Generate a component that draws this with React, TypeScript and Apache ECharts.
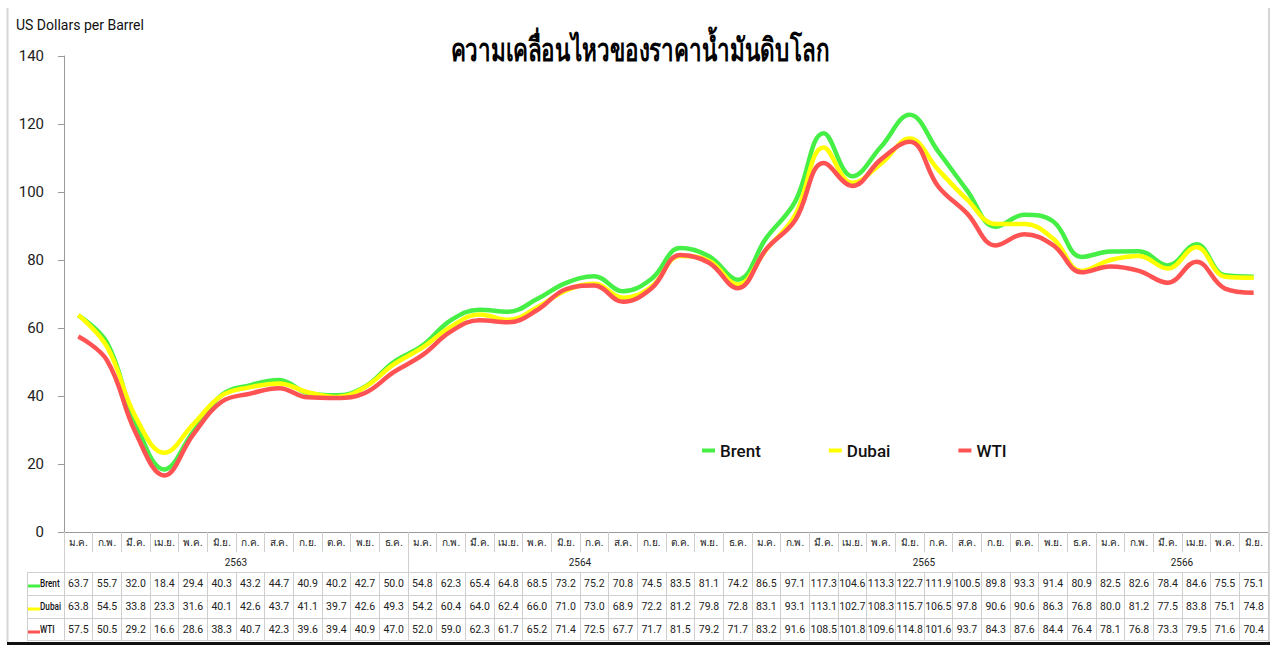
import React, { useEffect, useRef } from 'react';
import * as echarts from 'echarts';

const months = ['ม.ค.', 'ก.พ.', 'มี.ค.', 'เม.ย.', 'พ.ค.', 'มิ.ย.', 'ก.ค.', 'ส.ค.', 'ก.ย.', 'ต.ค.', 'พ.ย.', 'ธ.ค.'];
const years = ['2563', '2564', '2565', '2566'];
const monthsPerYear = [12, 12, 12, 6];

const seriesNames = ['Brent', 'Dubai', 'WTI'];
const seriesColors = ['#46ef46', '#ffff00', '#ff5252'];

const brent = [
  63.7, 55.7, 32.0, 18.4, 29.4, 40.3, 43.2, 44.7, 40.9, 40.2, 42.7, 50.0,
  54.8, 62.3, 65.4, 64.8, 68.5, 73.2, 75.2, 70.8, 74.5, 83.5, 81.1, 74.2,
  86.5, 97.1, 117.3, 104.6, 113.3, 122.7, 111.9, 100.5, 89.8, 93.3, 91.4, 80.9,
  82.5, 82.6, 78.4, 84.6, 75.5, 75.1,
];
const dubai = [
  63.8, 54.5, 33.8, 23.3, 31.6, 40.1, 42.6, 43.7, 41.1, 39.7, 42.6, 49.3,
  54.2, 60.4, 64.0, 62.4, 66.0, 71.0, 73.0, 68.9, 72.2, 81.2, 79.8, 72.8,
  83.1, 93.1, 113.1, 102.7, 108.3, 115.7, 106.5, 97.8, 90.6, 90.6, 86.3, 76.8,
  80.0, 81.2, 77.5, 83.8, 75.1, 74.8,
];
const wti = [
  57.5, 50.5, 29.2, 16.6, 28.6, 38.3, 40.7, 42.3, 39.6, 39.4, 40.9, 47.0,
  52.0, 59.0, 62.3, 61.7, 65.2, 71.4, 72.5, 67.7, 71.7, 81.5, 79.2, 71.7,
  83.2, 91.6, 108.5, 101.8, 109.6, 114.8, 101.6, 93.7, 84.3, 87.6, 84.4, 76.4,
  78.1, 76.8, 73.3, 79.5, 71.6, 70.4,
];
const yMin = 0;
const yMax = 140;
const yInterval = 20;

const titleText = 'ความเคลื่อนไหวของราคาน้ำมันดิบโลก';
const yAxisTitle = 'US Dollars per Barrel';

const FONT = 'Roboto, "Noto Sans", sans-serif';

export default function App() {
  const ref = useRef<HTMLDivElement>(null);

  useEffect(() => {
    if (!ref.current) return;
    const chart = echarts.init(ref.current, undefined, { renderer: 'svg' });

    const W = 1274;
    const gridLeft = 64;
    const gridRight = 6;
    const gridTop = 56;
    const gridBottom = 114;
    const axisY = 646 - gridBottom;

    const categories: string[] = [];
    const yearOfIndex: string[] = [];
    const yearLabelIdx: number[] = [];
    years.forEach((y, k) => {
      const start = categories.length;
      for (let i = 0; i < monthsPerYear[k]; i++) {
        categories.push(months[i]);
        yearOfIndex.push(y);
      }
      yearLabelIdx.push(start + monthsPerYear[k] / 2 - 1);
    });
    const n = categories.length;
    const band = (W - gridLeft - gridRight) / n;

    const rowData = [brent, dubai, wti];
    const rowOffsets = [40, 63, 86];
    const rowH = 23;

    const valueAxes = rowData.map((arr, r) => ({
      type: 'category',
      gridIndex: 0,
      position: 'bottom',
      offset: rowOffsets[r],
      data: arr.map((v) => v.toFixed(1)),
      boundaryGap: true,
      axisLine: { show: true, lineStyle: { color: '#cfcfcf', width: 1 } },
      axisTick: { show: true, length: rowH, interval: 0, lineStyle: { color: '#cfcfcf' } },
      axisLabel: { show: true, interval: 0, margin: 6, fontSize: 10.5, color: '#222', fontFamily: FONT, hideOverlap: false },
      splitLine: { show: false },
    }));

    const lineGray = '#cfcfcf';
    const graphics: any[] = [];
    // title (condensed look)
    graphics.push({
      type: 'text', x: 640, y: 50, scaleX: 0.7,
      style: { text: titleText, font: `bold 32px ${FONT}`, fill: '#000', align: 'center', verticalAlign: 'middle' },
      silent: true,
    });
    // frame
    graphics.push({ type: 'line', shape: { x1: 7.5, y1: 8, x2: 7.5, y2: 642 }, style: { stroke: '#d6d6d6', lineWidth: 2 }, silent: true });
    graphics.push({ type: 'line', shape: { x1: 1269, y1: 8, x2: 1269, y2: 642 }, style: { stroke: '#d6d6d6', lineWidth: 2 }, silent: true });
    graphics.push({ type: 'line', shape: { x1: 7, y1: 643.5, x2: 1270, y2: 643.5 }, style: { stroke: '#111', lineWidth: 3 }, silent: true });
    // left column of table
    const colLeft = 27;
    const rowTops = rowOffsets.map((o) => axisY + o);
    const lastLine = axisY + 108;
    [...rowTops, lastLine].forEach((yy) => {
      graphics.push({ type: 'line', shape: { x1: colLeft, y1: yy + 0.5, x2: gridLeft, y2: yy + 0.5 }, style: { stroke: lineGray, lineWidth: 1 }, silent: true });
    });
    graphics.push({ type: 'line', shape: { x1: colLeft + 0.5, y1: rowTops[0], x2: colLeft + 0.5, y2: lastLine }, style: { stroke: lineGray, lineWidth: 1 }, silent: true });
    seriesNames.forEach((name, r) => {
      const cy = rowTops[r] + rowH / 2;
      graphics.push({ type: 'rect', shape: { x: colLeft + 1, y: cy + 1, width: 12, height: 3 }, style: { fill: seriesColors[r] }, silent: true });
      graphics.push({
        type: 'text', x: colLeft + 13, y: cy, scaleX: 0.82,
        style: { text: name, font: `500 10px ${FONT}`, fill: '#111', verticalAlign: 'middle', align: 'left' },
        silent: true,
      });
    });

    const option: any = {
      animation: false,
      backgroundColor: '#ffffff',
      title: [
        {
          text: yAxisTitle,
          left: 11,
          top: 13,
          textStyle: { fontSize: 14, fontWeight: 'normal', color: '#111', fontFamily: FONT },
        },
      ],
      legend: {
        data: seriesNames,
        left: 697,
        top: 437,
        icon: 'rect',
        itemWidth: 13,
        itemHeight: 4,
        itemGap: 68,
        textStyle: { fontSize: 17, fontWeight: 500, color: '#111', fontFamily: FONT },
      },
      grid: { left: gridLeft, right: gridRight, top: gridTop, bottom: gridBottom, containLabel: false },
      xAxis: [
        {
          type: 'category',
          gridIndex: 0,
          position: 'bottom',
          data: categories,
          boundaryGap: true,
          axisLine: { show: true, lineStyle: { color: '#9a9a9a', width: 1 } },
          axisTick: { show: true, length: 20, interval: 0, lineStyle: { color: lineGray } },
          axisLabel: { show: true, interval: 0, margin: 5, fontSize: 10, color: '#222', fontFamily: FONT, hideOverlap: false },
          splitLine: { show: false },
        },
        {
          type: 'category',
          gridIndex: 0,
          position: 'bottom',
          offset: 20,
          data: yearOfIndex,
          boundaryGap: true,
          axisLine: { show: false },
          axisTick: {
            show: true,
            length: 20,
            interval: (i: number) => i === 0 || yearOfIndex[i] !== yearOfIndex[i - 1],
            lineStyle: { color: lineGray },
          },
          axisLabel: {
            show: true,
            interval: (i: number) => yearLabelIdx.indexOf(i) >= 0,
            margin: 5,
            fontSize: 10,
            color: '#222',
            fontFamily: FONT,
            padding: [0, 0, 0, band],
            hideOverlap: false,
          },
          splitLine: { show: false },
        },
        ...valueAxes,
        {
          type: 'category',
          gridIndex: 0,
          position: 'bottom',
          offset: 108,
          data: categories,
          boundaryGap: true,
          axisLine: { show: true, lineStyle: { color: lineGray, width: 1 } },
          axisTick: { show: false },
          axisLabel: { show: false },
          splitLine: { show: false },
        },
      ],
      yAxis: {
        type: 'value',
        min: yMin,
        max: yMax,
        interval: yInterval,
        axisLine: { show: true, lineStyle: { color: '#9a9a9a', width: 1 } },
        axisTick: { show: true, length: 6, lineStyle: { color: '#9a9a9a' } },
        axisLabel: { margin: 20, fontSize: 15, color: '#222', fontFamily: FONT },
        splitLine: { show: false },
      },
      series: seriesNames.map((name, k) => ({
        name,
        type: 'line',
        xAxisIndex: 0,
        yAxisIndex: 0,
        data: rowData[k],
        smooth: 0.4,
        showSymbol: false,
        symbol: 'none',
        lineStyle: { width: 4.5, color: seriesColors[k] },
        itemStyle: { color: seriesColors[k] },
        z: 3 + k,
      })),
      graphic: graphics,
    };

    chart.setOption(option);
    return () => chart.dispose();
  }, []);

  return (
    <div
      ref={ref}
      style={{ position: 'absolute', left: 0, top: 0, width: 1274, height: 646, background: '#fff' }}
    />
  );
}
